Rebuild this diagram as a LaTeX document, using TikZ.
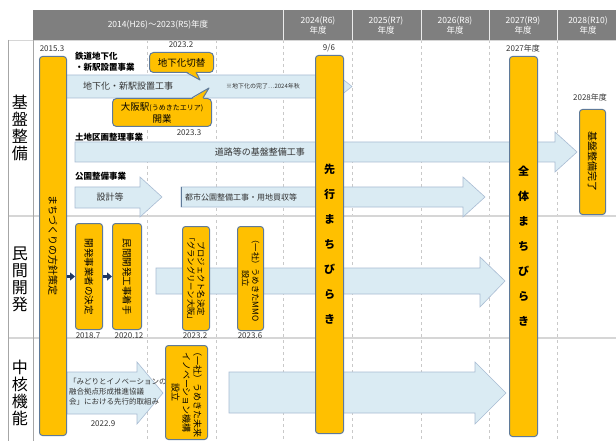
\documentclass[tikz,border=0pt]{standalone}
\usepackage{fontspec}
\setmainfont{Noto Sans CJK JP}
\definecolor{orangeY}{HTML}{FFC000}
\definecolor{pillarB}{HTML}{5F7A99}
\definecolor{lblue}{HTML}{DAEBF3}
\definecolor{lblueB}{HTML}{A9BCD3}
\definecolor{headgray}{HTML}{7F7F7F}
\definecolor{gridg}{HTML}{C9C9C9}
\definecolor{rowl}{HTML}{D6D6D6}
\definecolor{darkg}{HTML}{333333}
\definecolor{navyA}{HTML}{1F3864}
\usetikzlibrary{arrows.meta}
\tikzset{
  pillar/.style={fill=orangeY, draw=pillarB, line width=1pt, rounded corners=3pt, inner sep=0pt, anchor=north west},
  barrow/.style={fill=lblue, draw=lblueB, line width=0.6pt},
  datelbl/.style={font=\fontsize{8}{9}\selectfont, text=darkg, inner sep=0pt},
  headtxt/.style={font=\fontsize{8.5}{10}\selectfont, text=white, align=center, inner sep=0pt},
  rowlbl/.style={font=\fontsize{16}{17}\selectfont, align=center, inner sep=0pt},
  bigtxt/.style={font=\bfseries\fontsize{11}{25}\selectfont, align=center, inner sep=0pt},
  vtxt/.style={rotate=-90, align=center, inner sep=0pt, text=black},
  sectlbl/.style={font=\bfseries\fontsize{8.5}{11}\selectfont, anchor=west, align=left, inner sep=0pt},
  arrtxt/.style={font=\fontsize{9}{11}\selectfont, text=darkg, inner sep=0pt},
  callbox/.style={fill=orangeY, draw=pillarB, line width=1pt, rounded corners=4pt},
  navyarr/.style={draw=navyA, line width=3pt, -{Triangle[length=5pt,width=8pt]}},
}
\begin{document}
\begin{tikzpicture}[x=1pt,y=-1pt]
\useasboundingbox (0,0) rectangle (616,441);
\fill[white] (0,0) rectangle (616,441);
% header
\fill[headgray] (33,10) rectangle (616,40);
\foreach \xx in {283,352,421,489,557} \draw[white!85!gray, line width=0.8pt] (\xx,10) -- (\xx,40);
\node[headtxt] (h0) at (158,25) {2014(H26)～2023(R5)年度};
\node[headtxt] (h1) at (318,25) {2024(R6)\\年度};
\node[headtxt] (h2) at (386,25) {2025(R7)\\年度};
\node[headtxt] (h3) at (455,25) {2026(R8)\\年度};
\node[headtxt] (h4) at (523,25) {2027(R9)\\年度};
\node[headtxt] (h5) at (588,25) {2028(R10)\\年度};
% grid
\foreach \xx in {147,216,283,352,421,489,557} \draw[gridg, dashed, line width=0.5pt] (\xx,40) -- (\xx,441);
\draw[rowl, line width=0.8pt] (8,40) -- (616,40);
\draw[rowl, line width=1.2pt] (8,216) -- (616,216);
\draw[rowl, line width=1.2pt] (8,338) -- (616,338);
\draw[gray!70, line width=0.6pt] (8,40) -- (8,441);
\draw[gray!70, line width=0.6pt] (33,40) -- (33,441);
% row labels
\node[rowlbl] (r1) at (20,128) {基\\盤\\整\\備};
\node[rowlbl] (r2) at (20,279) {民\\間\\開\\発};
\node[rowlbl] (r3) at (20,393) {中\\核\\機\\能};
% block arrows
\draw[barrow] (60,75) -- (335,75) -- (335,73) -- (352,86.5) -- (335,100) -- (335,98) -- (60,98) -- cycle;
\draw[barrow] (75,142) -- (555,142) -- (555,132) -- (577,152) -- (555,172) -- (555,162) -- (75,162) -- cycle;
\draw[barrow] (75,187) -- (140,187) -- (140,177) -- (162,197) -- (140,217) -- (140,208) -- (75,208) -- cycle;
\draw[barrow] (181,187) -- (463,187) -- (463,177) -- (485,197) -- (463,217) -- (463,207) -- (181,207) -- cycle;
\draw[pillarB, line width=0.8pt] (181,187) -- (181,207);
\draw[barrow] (156,268) -- (480,268) -- (480,257) -- (505,281) -- (480,307) -- (480,294) -- (156,294) -- cycle;
\draw[barrow] (67,372) -- (137,372) -- (137,362) -- (163,393) -- (137,424) -- (137,414) -- (67,414) -- cycle;
\draw[barrow] (229,372) -- (475,372) -- (475,362) -- (506,393) -- (475,424) -- (475,413) -- (229,413) -- cycle;
% arrow texts
\node[arrtxt, anchor=west] (t1) at (83,86.5) {地下化・新駅設置工事};
\node[arrtxt, anchor=west, font=\fontsize{6}{7}\selectfont] (t1b) at (226,86.5) {※地下化の完了…2024年秋};
\node[arrtxt, anchor=east] (t2) at (305,152) {道路等の基盤整備工事};
\node[arrtxt] (t3) at (110,197) {設計等};
\node[arrtxt, anchor=west, font=\fontsize{8}{10}\selectfont] (t4) at (185,197) {都市公園整備工事・用地買収等};
\node[arrtxt, anchor=west, align=left, font=\fontsize{7.5}{10}\selectfont] (t5) at (69,392) {「みどりとイノベーションの\\融合拠点形成推進協議\\会」における先行的取組み};
% section labels
\node[sectlbl] (s1) at (75,62) {鉄道地下化\\・新駅設置事業};
\node[sectlbl] (s2) at (75,137) {土地区画整理事業};
\node[sectlbl] (s3) at (75,176) {公園整備事業};
% callouts
\node[callbox, minimum width=64pt, minimum height=20pt, inner sep=0pt, anchor=north west, font=\fontsize{9.5}{11}\selectfont] (c1) at (149,52) {地下化切替};
\fill[orangeY] (186,71) -- (200,80) -- (196,71) -- cycle;
\draw[pillarB, line width=1pt, line join=round] (186,72.2) -- (200,80) -- (196,72.2);
\node[callbox, minimum width=99pt, minimum height=28pt, inner sep=0pt, anchor=north west, align=center, font=\fontsize{9.5}{12}\selectfont] (c2) at (112,98) {大阪駅{\fontsize{7}{8}\selectfont (うめきたエリア)}\\開業};
\fill[orangeY] (192,99) -- (209,88) -- (203,99) -- cycle;
\draw[pillarB, line width=1pt, line join=round] (192,97.8) -- (209,88) -- (203,97.8);
% pillars
\node[pillar, minimum width=27pt, minimum height=379pt] (p1) at (39,56) {};
\node[pillar, minimum width=28pt, minimum height=378pt] (pS) at (315,55) {};
\node[pillar, minimum width=28pt, minimum height=380pt] (pZ) at (509,56) {};
\node[pillar, minimum width=26pt, minimum height=105pt] (pK) at (579,109) {};
\node[pillar, minimum width=27pt, minimum height=106pt] (pA) at (75,223) {};
\node[pillar, minimum width=29pt, minimum height=106pt] (pB) at (112,223) {};
\node[pillar, minimum width=27pt, minimum height=104pt] (pC) at (182,226) {};
\node[pillar, minimum width=26pt, minimum height=104pt] (pD) at (237,226) {};
\node[pillar, minimum width=42pt, minimum height=94pt] (pE) at (165,345) {};
% pillar texts
\node[vtxt, font=\fontsize{10}{12}\selectfont] at (p1.center) {まちづくりの方針策定};
\node[bigtxt] at (pS.center) {先\\行\\ま\\ち\\び\\ら\\き};
\node[bigtxt] at (pZ.center) {全\\体\\ま\\ち\\び\\ら\\き};
\node[vtxt, font=\fontsize{10}{12}\selectfont] at (pK.center) {基盤整備完了};
\node[vtxt, font=\fontsize{9.5}{11}\selectfont] at (pA.center) {開発事業者の決定};
\node[vtxt, font=\fontsize{9.5}{11}\selectfont] at (pB.center) {民間開発工事着手};
\node[vtxt, font=\fontsize{8.3}{10}\selectfont] at (pC.center) {プロジェクト名決定\\「グラングリーン大阪」};
\node[vtxt, font=\fontsize{8.3}{10}\selectfont] at (pD.center) {（一社）うめきたMMO\\設立};
\node[vtxt, font=\fontsize{9}{11}\selectfont] at (pE.center) {（一社）うめきた未来\\イノベーション機構\\設立};
% navy arrows
\draw[navyarr] (p1.east |- pA.center) -- (pA.west);
\draw[navyarr] (pA.east) -- (pB.west);
% dates
\node[datelbl] (d1) at (52,49) {2015.3};
\node[datelbl] (d2) at (181,45) {2023.2};
\node[datelbl] (d3) at (189,133) {2023.3};
\node[datelbl] (d4) at (329,48) {9/6};
\node[datelbl] (d5) at (523,48) {2027年度};
\node[datelbl] (d6) at (590,97) {2028年度};
\node[datelbl] (d7) at (88,336) {2018.7};
\node[datelbl] (d8) at (129,336) {2020.12};
\node[datelbl] (d9) at (195,336) {2023.2};
\node[datelbl] (d10) at (250,336) {2023.6};
\node[datelbl] (d11) at (103,424) {2022.9};
\end{tikzpicture}
\end{document}
